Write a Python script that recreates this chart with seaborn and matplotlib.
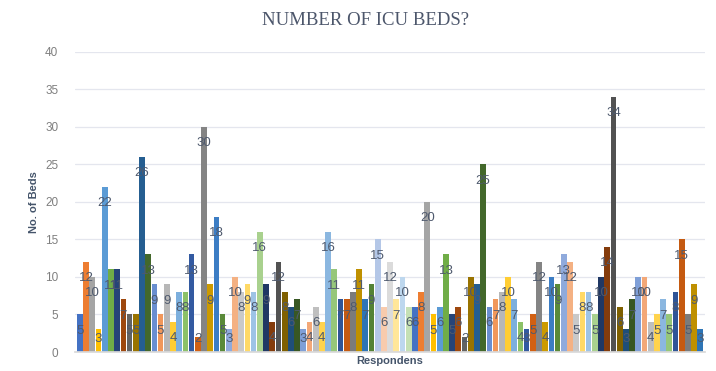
import matplotlib
matplotlib.use("Agg")
import matplotlib.pyplot as plt
import seaborn as sns
import pandas as pd

values = [5, 12, 10, 3, 22, 11, 11, 7, 5, 5, 26, 13, 9, 5, 9, 4, 8, 8, 13, 2,
          30, 9, 18, 5, 3, 10, 8, 9, 8, 16, 9, 4, 12, 8, 6, 7, 3, 4, 6, 4,
          16, 11, 7, 7, 8, 11, 7, 9, 15, 6, 12, 7, 10, 6, 6, 8, 20, 5, 6, 13,
          5, 6, 2, 10, 9, 25, 6, 7, 8, 10, 7, 4, 3, 5, 12, 4, 10, 9, 13, 12,
          5, 8, 8, 5, 10, 14, 34, 6, 3, 7, 10, 10, 4, 5, 7, 5, 8, 15, 5, 9, 3]
respondents = [f"R{i + 1}" for i in range(len(values))]

palette_cycle = [
    "#4472C4", "#ED7D31", "#A5A5A5", "#FFC000", "#5B9BD5", "#70AD47",
    "#264478", "#9E480E", "#636363", "#997300", "#255E91", "#43682B",
    "#698ED0", "#F1975A", "#B7B7B7", "#FFCD33", "#7CAFDD", "#8CC168",
    "#335AA1", "#D26012", "#848484", "#CC9A00", "#3C7DC4", "#5A8A39",
    "#8FAADC", "#F4B183", "#C9C9C9", "#FFD966", "#9DC3E6", "#A9D18E",
    "#203864", "#843C0C", "#525252", "#7F6000", "#1F4E79", "#385723",
    "#7F9FD7", "#F3A878", "#BFBFBF", "#FFD34D", "#8BB7E0", "#96C77A",
    "#2F5597", "#C55A11", "#7B7B7B", "#BF9000", "#2E75B6", "#548235",
    "#B4C7E7", "#F8CBAD", "#DBDBDB", "#FFE699", "#BDD7EE", "#C5E0B4",
]
colors = [palette_cycle[i % len(palette_cycle)] for i in range(len(values))]

df = pd.DataFrame({"Respondent": respondents, "Beds": values})

sns.set_theme(style="white")
plt.rcParams["font.family"] = ["Liberation Sans", "DejaVu Sans"]

fig = plt.figure(figsize=(7.16, 3.71), dpi=100)
ax = fig.add_axes([0.1047, 0.0512, 0.8803, 0.8098])

sns.barplot(data=df, x="Respondent", y="Beds", hue="Respondent",
            palette=colors, legend=False, width=0.92, saturation=1,
            linewidth=0, order=respondents, hue_order=respondents, ax=ax)

for i, v in enumerate(values):
    ax.text(i, max(v - 2.2, 1.75), str(v), ha="center", va="center",
            fontsize=9.5, color="#4F5A6E")

ax.set_ylim(0, 40)
ax.set_xlim(-0.8, len(values) - 0.2)
ax.set_yticks(range(0, 41, 5))
ax.tick_params(axis="y", labelsize=8.5, labelcolor="#7F7F7F", length=0, pad=12)
ax.set_xticks([])
ax.yaxis.grid(True, color="#E4E6EE", linewidth=0.9)
ax.set_axisbelow(True)
for s in ["top", "right", "left"]:
    ax.spines[s].set_visible(False)
ax.spines["bottom"].set_color("#D9D9D9")

ax.set_ylabel("No. of Beds", fontsize=8, fontweight="bold", color="#44546A", labelpad=4)
ax.set_xlabel("Respondens", fontsize=8, fontweight="bold", color="#44546A", labelpad=3)

fig.text(0.511, 0.945, "NUMBER OF ICU BEDS?", ha="center", va="center",
         fontsize=13.5, color="#4C566B", family=["Liberation Serif", "DejaVu Serif"])

fig.savefig("out.png", dpi=100)
